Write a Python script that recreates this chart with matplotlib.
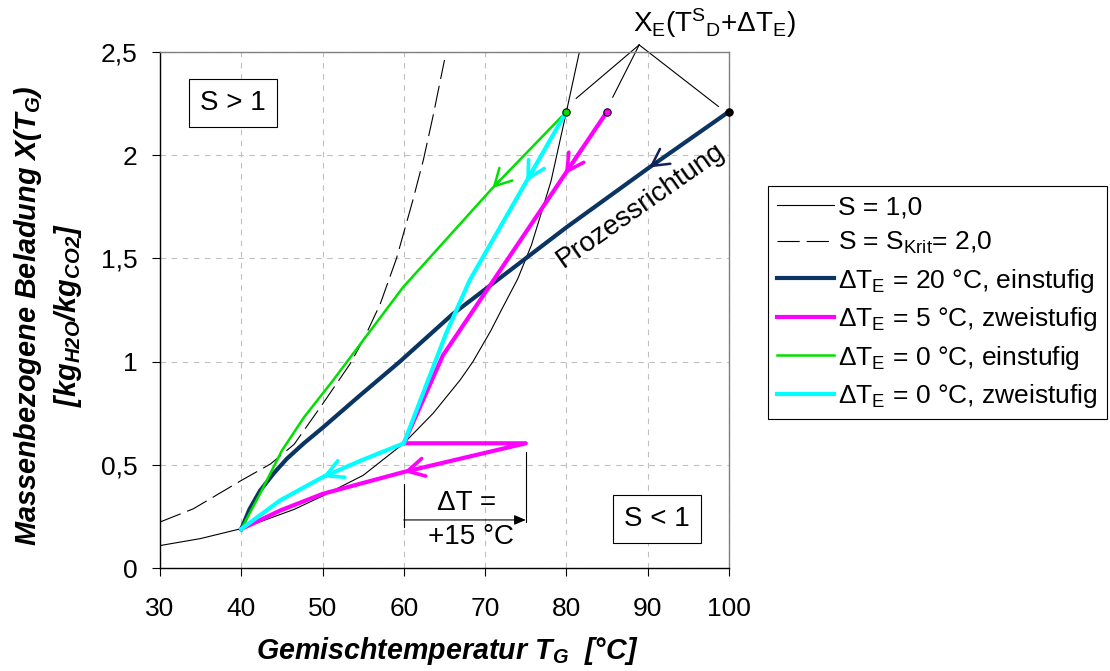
import matplotlib
matplotlib.use('Agg')
import matplotlib.pyplot as plt
import numpy as np

plt.rcParams['font.family'] = ['Liberation Sans', 'DejaVu Sans']
plt.rcParams['mathtext.fontset'] = 'custom'
plt.rcParams['mathtext.rm'] = 'Liberation Sans'
plt.rcParams['mathtext.it'] = 'Liberation Sans:italic'
plt.rcParams['mathtext.bf'] = 'Liberation Sans:bold'
plt.rcParams['mathtext.default'] = 'regular'
plt.rcParams['lines.scale_dashes'] = False

# ---------------- data ----------------
# S = 1,0 curve
s1_T = [30, 35, 40, 46.5, 50, 55, 60, 63.6, 66.9, 68.5, 70.7, 72, 74, 75.7, 78.1, 80, 81.6]
s1_X = [0.11, 0.144, 0.192, 0.285, 0.35, 0.45, 0.605, 0.75, 0.91, 1.0, 1.15, 1.25,
        1.40, 1.565, 1.873, 2.21, 2.5]

# S = S_Krit = 2,0 curve
s2_T = [30, 34.1, 40, 43.6, 46.5, 50, 53.4, 55.2, 57.1, 59.1, 61.1, 62.4, 63.6, 65.0]
s2_X = [0.224, 0.288, 0.425, 0.505, 0.60, 0.795, 0.99, 1.12, 1.28, 1.5, 1.78, 1.976,
        2.19, 2.46]

# process paths (in process direction)
navy_T = [100, 90.2, 80, 72, 66, 59.5, 54.7, 50, 47.7, 45.6, 44, 42.3, 41, 40]
navy_X = [2.21, 1.94, 1.65, 1.41, 1.23, 1.0, 0.84, 0.68, 0.605, 0.53, 0.46, 0.375,
          0.285, 0.19]

mag_T = [85, 64.8, 60, 75, 60, 54.7, 50, 44.8, 40]
mag_X = [2.21, 1.03, 0.605, 0.605, 0.466, 0.41, 0.36, 0.28, 0.19]

green_T = [80, 70.9, 59.9, 51.2, 47.7, 45, 42.3, 40]
green_X = [2.21, 1.84, 1.36, 0.905, 0.73, 0.57, 0.36, 0.19]

cyan_T = [80, 68.1, 65.2, 60, 54.7, 50, 44.8, 40]
cyan_X = [2.21, 1.394, 1.137, 0.605, 0.521, 0.441, 0.329, 0.19]

x_ticks = [30, 40, 50, 60, 70, 80, 90, 100]
y_ticks = [0, 0.5, 1, 1.5, 2, 2.5]
y_ticklabels = ['0', '0,5', '1', '1,5', '2', '2,5']

labels = ['S = 1,0',
          'S = S$_{Krit}$= 2,0',
          'ΔT$_E$ = 20 °C, einstufig',
          'ΔT$_E$ = 5 °C, zweistufig',
          'ΔT$_E$ = 0 °C, einstufig',
          'ΔT$_E$ = 0 °C, zweistufig']

# ---------------- styling ----------------
NAVY = '#0a3563'
MAG = '#ff00ff'
GREEN = '#00e000'
CYAN = '#00ffff'

fig = plt.figure(figsize=(11.1, 6.71), dpi=100)
ax = fig.add_axes([160/1110, 1-568.3/671, (729-160)/1110, (568.3-51.7)/671])

ax.set_xlim(30, 100)
ax.set_ylim(0, 2.5)
ax.set_xticks(x_ticks)
ax.set_yticks(y_ticks)
ax.set_yticklabels(y_ticklabels)
ax.tick_params(axis='both', direction='out', length=6, width=0.8, labelsize=19,
               top=False, right=False)
ax.tick_params(axis='x', pad=15)
ax.tick_params(axis='y', pad=10)
ax.grid(True, color='#c0c0c0', linestyle=(0, (4, 4)), linewidth=0.8)
ax.set_axisbelow(True)
for s in ['top', 'right']:
    ax.spines[s].set_color('#808080')
    ax.spines[s].set_linewidth(1.0)
for s in ['left', 'bottom']:
    ax.spines[s].set_color('black')
    ax.spines[s].set_linewidth(1.0)

h_s1, = ax.plot(s1_T, s1_X, color='black', lw=0.8)
h_s2, = ax.plot(s2_T, s2_X, color='black', lw=0.8, dashes=(16, 5))
h_navy, = ax.plot(navy_T, navy_X, color=NAVY, lw=3.0, solid_joinstyle='round')
h_mag, = ax.plot(mag_T, mag_X, color=MAG, lw=3.0, solid_joinstyle='round')
h_green, = ax.plot(green_T, green_X, color=GREEN, lw=1.8, solid_joinstyle='round')
h_cyan, = ax.plot(cyan_T, cyan_X, color=CYAN, lw=3.0, solid_joinstyle='round')

# start dots
ax.plot([navy_T[0]], [navy_X[0]], 'o', ms=5.3, mfc='black', mec='black', mew=0.8,
        zorder=5, clip_on=False)
ax.plot([mag_T[0]], [mag_X[0]], 'o', ms=5.3, mfc=MAG, mec='black', mew=0.8, zorder=5)
ax.plot([green_T[0]], [green_X[0]], 'o', ms=5.3, mfc=GREEN, mec='black', mew=0.8,
        zorder=5)


def point_at(T, X, t):
    i = int(np.floor(t))
    f = t - i
    if f == 0 and i > 0:
        i, f = i - 1, 1.0
    x = T[i] + f * (T[i + 1] - T[i])
    y = X[i] + f * (X[i + 1] - X[i])
    x0 = x - 0.1 * (T[i + 1] - T[i])
    y0 = y - 0.1 * (X[i + 1] - X[i])
    return (x, y), (x0, y0)


arrows = [
    (navy_T, navy_X, 1.0, '#14205a', 1.8),
    (mag_T, mag_X, 0.257, MAG, 2.6),
    (green_T, green_X, 1.0, GREEN, 1.8),
    (cyan_T, cyan_X, 0.416, CYAN, 2.6),
    (cyan_T, cyan_X, 5.0, CYAN, 2.6),
    (mag_T, mag_X, 4.0, MAG, 2.6),
]
for T, X, t, c, lw in arrows:
    tip, tail = point_at(T, X, t)
    ax.annotate('', xy=tip, xytext=tail,
                arrowprops=dict(arrowstyle='->,head_length=1.2,head_width=0.65',
                                color=c, lw=lw, shrinkA=0, shrinkB=0,
                                mutation_scale=10), zorder=6)

# region labels
box = dict(boxstyle='square,pad=0.4', fc='white', ec='black', lw=0.8)
ax.text(38.95, 2.253, 'S > 1', fontsize=20, ha='center', va='center', bbox=box)
ax.text(91.15, 0.24, 'S < 1', fontsize=20, ha='center', va='center', bbox=box)

ax.text(89.1, 1.758, 'Prozessrichtung', fontsize=20, rotation=35,
        rotation_mode='anchor', ha='center', va='center')

# X_E annotation
ax.text(88.2, 2.593, 'X$_E$(T$^S$$_D$+ΔT$_E$)', fontsize=20, ha='left',
        va='baseline', clip_on=False)
junction = (88.95, 2.533)
for end in [(81.2, 2.274), (85.7, 2.28), (98.7, 2.235)]:
    ax.plot([junction[0], end[0]], [junction[1], end[1]], color='black', lw=0.8,
            clip_on=False)

# Delta T bracket
ax.plot([60, 60], [0.2, 0.41], color='black', lw=0.8)
ax.plot([75, 75], [0.224, 0.564], color='black', lw=0.8)
ax.annotate('', xy=(75, 0.234), xytext=(60, 0.234),
            arrowprops=dict(arrowstyle='-|>,head_length=0.7,head_width=0.3',
                            color='black', lw=0.8, shrinkA=0, shrinkB=0,
                            mutation_scale=10))
ax.text(67.76, 0.315, 'ΔT =', fontsize=20, ha='center', va='center')
ax.text(68.2, 0.153, '+15 °C', fontsize=20, ha='center', va='center')

# axis labels
xl = ax.set_xlabel('Gemischtemperatur T$_G$  [°C]', fontsize=20.6,
                   fontweight='bold', fontstyle='italic')
xl.set_va('center')
ax.xaxis.set_label_coords(0.505, -0.16)
yl = ax.set_ylabel('Massenbezogene Beladung X(T$_G$)\n[kg$_{H2O}$/kg$_{CO2}$]',
                   fontsize=20.8, fontweight='bold', fontstyle='italic',
                   linespacing=1.3)
yl.set_va('center')
ax.yaxis.set_label_coords(-(160 - 48) / 569, 0.49)

leg = ax.legend([h_s1, h_s2, h_navy, h_mag, h_green, h_cyan], labels,
                loc='upper left', bbox_to_anchor=(768/1110, 1-186/671),
                bbox_transform=fig.transFigure, fontsize=19,
                handlelength=2.16, handletextpad=0.15, borderpad=0.35,
                labelspacing=0.4, borderaxespad=0, fancybox=False,
                edgecolor='black', framealpha=1)
leg.get_frame().set_linewidth(0.8)

fig.savefig('out.png', dpi=100)
